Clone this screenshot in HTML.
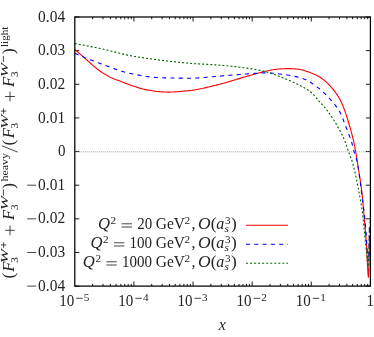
<!DOCTYPE html>
<html><head><meta charset="utf-8"><title>plot</title>
<style>
html,body{margin:0;padding:0;background:#fff;}
body{width:374px;height:337px;overflow:hidden;font-family:"Liberation Serif",serif;}
svg{display:block;will-change:transform;}
text{font-family:"Liberation Serif",serif;fill:#242424;}
.i{font-style:italic;}
.s{stroke:#242424;stroke-width:0.85;fill:none;}
</style></head><body>
<svg width="374" height="337" viewBox="0 0 374 337">


<path d="M92.60,286.1 v-2.25 M92.60,17.0 v2.25 M103.01,286.1 v-2.25 M103.01,17.0 v2.25 M110.39,286.1 v-2.25 M110.39,17.0 v2.25 M116.12,286.1 v-2.25 M116.12,17.0 v2.25 M120.80,286.1 v-2.25 M120.80,17.0 v2.25 M124.76,286.1 v-2.25 M124.76,17.0 v2.25 M128.19,286.1 v-2.25 M128.19,17.0 v2.25 M131.21,286.1 v-2.25 M131.21,17.0 v2.25 M133.92,286.1 v-4.5 M133.92,17.0 v4.5 M151.72,286.1 v-2.25 M151.72,17.0 v2.25 M162.13,286.1 v-2.25 M162.13,17.0 v2.25 M169.51,286.1 v-2.25 M169.51,17.0 v2.25 M175.24,286.1 v-2.25 M175.24,17.0 v2.25 M179.92,286.1 v-2.25 M179.92,17.0 v2.25 M183.88,286.1 v-2.25 M183.88,17.0 v2.25 M187.31,286.1 v-2.25 M187.31,17.0 v2.25 M190.33,286.1 v-2.25 M190.33,17.0 v2.25 M193.04,286.1 v-4.5 M193.04,17.0 v4.5 M210.84,286.1 v-2.25 M210.84,17.0 v2.25 M221.25,286.1 v-2.25 M221.25,17.0 v2.25 M228.63,286.1 v-2.25 M228.63,17.0 v2.25 M234.36,286.1 v-2.25 M234.36,17.0 v2.25 M239.04,286.1 v-2.25 M239.04,17.0 v2.25 M243.00,286.1 v-2.25 M243.00,17.0 v2.25 M246.43,286.1 v-2.25 M246.43,17.0 v2.25 M249.45,286.1 v-2.25 M249.45,17.0 v2.25 M252.16,286.1 v-4.5 M252.16,17.0 v4.5 M269.96,286.1 v-2.25 M269.96,17.0 v2.25 M280.37,286.1 v-2.25 M280.37,17.0 v2.25 M287.75,286.1 v-2.25 M287.75,17.0 v2.25 M293.48,286.1 v-2.25 M293.48,17.0 v2.25 M298.16,286.1 v-2.25 M298.16,17.0 v2.25 M302.12,286.1 v-2.25 M302.12,17.0 v2.25 M305.55,286.1 v-2.25 M305.55,17.0 v2.25 M308.57,286.1 v-2.25 M308.57,17.0 v2.25 M311.28,286.1 v-4.5 M311.28,17.0 v4.5 M329.08,286.1 v-2.25 M329.08,17.0 v2.25 M339.49,286.1 v-2.25 M339.49,17.0 v2.25 M346.87,286.1 v-2.25 M346.87,17.0 v2.25 M352.60,286.1 v-2.25 M352.60,17.0 v2.25 M357.28,286.1 v-2.25 M357.28,17.0 v2.25 M361.24,286.1 v-2.25 M361.24,17.0 v2.25 M364.67,286.1 v-2.25 M364.67,17.0 v2.25 M367.69,286.1 v-2.25 M367.69,17.0 v2.25 M74.8,17.00 h4.5 M370.4,17.00 h-4.5 M74.8,50.64 h4.5 M370.4,50.64 h-4.5 M74.8,84.28 h4.5 M370.4,84.28 h-4.5 M74.8,117.91 h4.5 M370.4,117.91 h-4.5 M74.8,151.55 h4.5 M370.4,151.55 h-4.5 M74.8,185.19 h4.5 M370.4,185.19 h-4.5 M74.8,218.83 h4.5 M370.4,218.83 h-4.5 M74.8,252.46 h4.5 M370.4,252.46 h-4.5 M74.8,286.10 h4.5 M370.4,286.10 h-4.5" stroke="#000" stroke-width="0.9" fill="none"/>
<line x1="74.8" y1="151.80" x2="370.4" y2="151.80" stroke="#909090" stroke-width="0.8" stroke-dasharray="1 1"/>
<path d="M74.80,49.50 L75.78,50.34 L76.75,51.19 L77.73,52.03 L78.70,52.88 L79.68,53.72 L80.65,54.57 L81.63,55.41 L82.60,56.26 L83.58,57.10 L84.55,57.95 L85.52,58.80 L86.48,59.66 L87.44,60.53 L88.39,61.40 L89.35,62.27 L90.31,63.13 L91.27,63.98 L92.25,64.83 L93.23,65.67 L94.21,66.51 L95.20,67.34 L96.20,68.16 L97.21,68.97 L98.23,69.75 L99.27,70.51 L100.32,71.25 L101.39,71.98 L102.47,72.69 L103.56,73.38 L104.66,74.06 L105.77,74.72 L106.88,75.37 L108.01,76.01 L109.14,76.63 L110.28,77.23 L111.44,77.80 L112.61,78.32 L113.80,78.81 L115.01,79.27 L116.22,79.71 L117.44,80.15 L118.66,80.59 L119.87,81.04 L121.07,81.51 L122.27,81.98 L123.47,82.45 L124.68,82.93 L125.88,83.39 L127.08,83.85 L128.29,84.30 L129.51,84.73 L130.73,85.15 L131.95,85.57 L133.17,85.99 L134.40,86.41 L135.63,86.82 L136.86,87.23 L138.09,87.62 L139.33,88.01 L140.57,88.37 L141.81,88.72 L143.06,89.05 L144.31,89.34 L145.56,89.61 L146.82,89.86 L148.08,90.09 L149.35,90.32 L150.62,90.54 L151.90,90.75 L153.18,90.94 L154.46,91.13 L155.75,91.29 L157.03,91.44 L158.32,91.57 L159.60,91.67 L160.89,91.76 L162.17,91.85 L163.46,91.93 L164.75,92.00 L166.04,92.05 L167.33,92.09 L168.62,92.10 L169.91,92.09 L171.20,92.06 L172.49,92.02 L173.78,91.96 L175.07,91.89 L176.36,91.81 L177.65,91.72 L178.94,91.62 L180.23,91.50 L181.52,91.39 L182.81,91.26 L184.09,91.13 L185.38,91.00 L186.66,90.86 L187.94,90.72 L189.22,90.58 L190.49,90.45 L191.77,90.29 L193.04,90.12 L194.31,89.93 L195.58,89.73 L196.85,89.51 L198.12,89.28 L199.38,89.03 L200.65,88.78 L201.91,88.51 L203.18,88.24 L204.44,87.95 L205.70,87.66 L206.96,87.36 L208.22,87.06 L209.48,86.75 L210.74,86.43 L211.99,86.12 L213.25,85.80 L214.50,85.48 L215.76,85.16 L217.01,84.85 L218.26,84.53 L219.52,84.22 L220.77,83.91 L222.01,83.59 L223.26,83.26 L224.50,82.93 L225.75,82.59 L226.99,82.24 L228.23,81.88 L229.47,81.52 L230.70,81.15 L231.94,80.78 L233.18,80.41 L234.41,80.04 L235.65,79.66 L236.88,79.28 L238.12,78.90 L239.35,78.53 L240.59,78.15 L241.82,77.77 L243.06,77.40 L244.30,77.03 L245.54,76.67 L246.78,76.31 L248.02,75.95 L249.26,75.60 L250.50,75.26 L251.75,74.91 L252.99,74.56 L254.23,74.21 L255.48,73.86 L256.72,73.51 L257.97,73.16 L259.21,72.82 L260.46,72.49 L261.71,72.17 L262.96,71.87 L264.22,71.58 L265.48,71.31 L266.74,71.05 L268.00,70.79 L269.27,70.53 L270.54,70.27 L271.81,70.02 L273.08,69.78 L274.36,69.56 L275.63,69.36 L276.91,69.18 L278.19,69.04 L279.47,68.93 L280.75,68.86 L282.04,68.79 L283.33,68.73 L284.62,68.68 L285.91,68.64 L287.21,68.61 L288.50,68.60 L289.79,68.61 L291.08,68.66 L292.37,68.72 L293.67,68.81 L294.96,68.91 L296.24,69.03 L297.52,69.15 L298.78,69.29 L300.05,69.50 L301.31,69.76 L302.57,70.07 L303.82,70.42 L305.07,70.80 L306.31,71.21 L307.54,71.63 L308.76,72.06 L309.97,72.49 L311.17,72.93 L312.38,73.40 L313.59,73.90 L314.78,74.43 L315.96,74.99 L317.12,75.57 L318.26,76.18 L319.36,76.81 L320.44,77.48 L321.49,78.18 L322.54,78.94 L323.56,79.73 L324.57,80.56 L325.56,81.42 L326.53,82.30 L327.48,83.21 L328.40,84.12 L329.29,85.05 L330.16,85.98 L331.01,86.92 L331.86,87.89 L332.69,88.88 L333.51,89.88 L334.31,90.91 L335.10,91.95 L335.87,93.01 L336.62,94.08 L337.34,95.16 L338.04,96.26 L338.72,97.36 L339.37,98.47 L339.99,99.58 L340.58,100.71 L341.15,101.86 L341.69,103.03 L342.21,104.21 L342.72,105.41 L343.20,106.61 L343.68,107.82 L344.14,109.03 L344.59,110.24 L345.03,111.45 L345.46,112.66 L345.88,113.88 L346.29,115.11 L346.69,116.33 L347.08,117.56 L347.47,118.80 L347.84,120.03 L348.22,121.27 L348.59,122.51 L348.95,123.75 L349.31,124.99 L349.67,126.23 L350.02,127.47 L350.37,128.71 L350.72,129.95 L351.06,131.20 L351.40,132.44 L351.73,133.69 L352.06,134.94 L352.38,136.19 L352.70,137.44 L353.01,138.69 L353.31,139.95 L353.60,141.20 L353.88,142.46 L354.15,143.72 L354.42,144.99 L354.67,146.25 L354.92,147.52 L355.16,148.79 L355.40,150.05 L355.63,151.32 L355.86,152.59 L356.08,153.86 L356.30,155.14 L356.51,156.41 L356.72,157.68 L356.92,158.96 L357.12,160.23 L357.32,161.51 L357.52,162.78 L357.72,164.06 L357.92,165.33 L358.12,166.61 L358.33,167.88 L358.53,169.16 L358.73,170.43 L358.93,171.71 L359.13,172.98 L359.33,174.26 L359.53,175.53 L359.72,176.81 L359.92,178.09 L360.11,179.36 L360.30,180.64 L360.49,181.92 L360.67,183.19 L360.85,184.47 L361.03,185.75 L361.21,187.03 L361.38,188.31 L361.54,189.59 L361.70,190.87 L361.86,192.15 L362.01,193.43 L362.16,194.71 L362.30,195.99 L362.43,197.27 L362.56,198.55 L362.68,199.84 L362.80,201.12 L362.92,202.41 L363.03,203.69 L363.14,204.98 L363.25,206.26 L363.35,207.55 L363.46,208.84 L363.57,210.12 L363.68,211.41 L363.79,212.70 L363.90,213.98 L364.01,215.27 L364.13,216.55 L364.25,217.84 L364.36,219.12 L364.48,220.41 L364.60,221.69 L364.72,222.98 L364.84,224.26 L364.95,225.55 L365.06,226.83 L365.18,228.12 L365.29,229.40 L365.39,230.69 L365.50,231.97 L365.60,233.26 L365.70,234.55 L365.80,235.83 L365.91,237.12 L366.01,238.41 L366.10,239.69 L366.20,240.98 L366.30,242.27 L366.39,243.55 L366.48,244.84 L366.56,246.13 L366.65,247.42 L366.72,248.70 L366.80,249.99 L366.87,251.28 L366.93,252.57 L366.99,253.86 L367.05,255.15 L367.10,256.44 L367.16,257.73 L367.21,259.01 L367.27,260.30 L367.32,261.59 L367.39,262.88 L367.45,264.17 L367.53,265.47 L367.61,266.96 L367.70,268.60 L367.80,270.30 L367.90,272.00 L368.01,273.59 L368.11,275.00 L368.21,276.14 L368.30,276.94 L368.38,277.29 L368.46,277.14 L368.54,276.51 L368.61,275.50 L368.68,274.18 L368.75,272.65 L368.82,270.98 L368.88,269.27 L368.93,267.59 L368.97,266.03 L369.01,264.67 L369.04,263.38 L369.06,262.09 L369.09,260.80 L369.11,259.51 L369.13,258.22 L369.15,256.93 L369.17,255.64 L369.18,254.35 L369.20,253.06 L369.22,251.77 L369.23,250.48 L369.25,249.19 L369.27,247.90 L369.29,246.61 L369.31,245.32 L369.33,244.03 L369.36,242.74 L369.38,241.45 L369.40,240.16 L369.43,238.87 L369.45,237.58 L369.48,236.29 L369.50,235.00" fill="none" stroke="#ff0000" stroke-width="1.1" stroke-linejoin="round"/>
<path d="M74.80,53.30 L75.89,53.77 L76.98,54.24 L78.07,54.71 L79.17,55.18 L80.26,55.64 L81.35,56.10 L82.45,56.56 L83.55,57.01 L84.65,57.46 L85.74,57.91 L86.84,58.36 L87.95,58.80 L89.05,59.24 L90.15,59.68 L91.25,60.11 L92.36,60.54 L93.46,60.97 L94.57,61.40 L95.68,61.82 L96.79,62.24 L97.90,62.66 L99.01,63.07 L100.12,63.48 L101.23,63.89 L102.35,64.29 L103.46,64.70 L104.58,65.11 L105.69,65.52 L106.81,65.94 L107.92,66.36 L109.04,66.78 L110.16,67.20 L111.28,67.62 L112.40,68.04 L113.52,68.45 L114.64,68.86 L115.76,69.27 L116.89,69.66 L118.01,70.05 L119.14,70.43 L120.27,70.80 L121.40,71.16 L122.53,71.50 L123.67,71.84 L124.81,72.16 L125.95,72.46 L127.09,72.75 L128.23,73.02 L129.38,73.27 L130.53,73.51 L131.68,73.74 L132.84,73.97 L134.00,74.20 L135.16,74.43 L136.32,74.66 L137.49,74.88 L138.66,75.10 L139.83,75.31 L141.01,75.53 L142.18,75.73 L143.36,75.93 L144.54,76.12 L145.71,76.30 L146.89,76.48 L148.08,76.65 L149.26,76.81 L150.44,76.95 L151.62,77.09 L152.81,77.22 L153.99,77.33 L155.17,77.43 L156.36,77.52 L157.54,77.59 L158.72,77.65 L159.90,77.70 L161.08,77.73 L162.26,77.77 L163.45,77.80 L164.63,77.83 L165.81,77.86 L167.00,77.89 L168.18,77.92 L169.37,77.95 L170.56,77.97 L171.74,78.00 L172.93,78.02 L174.12,78.05 L175.31,78.07 L176.49,78.09 L177.68,78.11 L178.87,78.12 L180.06,78.14 L181.25,78.15 L182.44,78.16 L183.62,78.17 L184.81,78.18 L186.00,78.19 L187.18,78.19 L188.37,78.20 L189.56,78.20 L190.74,78.20 L191.93,78.18 L193.11,78.16 L194.29,78.12 L195.48,78.08 L196.66,78.02 L197.85,77.96 L199.03,77.89 L200.21,77.81 L201.40,77.72 L202.58,77.63 L203.76,77.54 L204.95,77.43 L206.13,77.33 L207.31,77.22 L208.50,77.12 L209.68,77.01 L210.86,76.90 L212.05,76.79 L213.23,76.68 L214.41,76.57 L215.60,76.46 L216.78,76.36 L217.96,76.26 L219.14,76.17 L220.33,76.08 L221.51,75.99 L222.69,75.89 L223.88,75.80 L225.06,75.70 L226.24,75.60 L227.42,75.50 L228.61,75.40 L229.79,75.30 L230.97,75.20 L232.15,75.09 L233.33,74.99 L234.52,74.89 L235.70,74.79 L236.88,74.68 L238.06,74.58 L239.25,74.49 L240.43,74.39 L241.61,74.29 L242.79,74.20 L243.98,74.11 L245.16,74.02 L246.34,73.94 L247.53,73.86 L248.71,73.78 L249.89,73.71 L251.08,73.63 L252.26,73.56 L253.45,73.48 L254.63,73.40 L255.82,73.32 L257.00,73.24 L258.19,73.17 L259.37,73.10 L260.56,73.04 L261.74,72.99 L262.93,72.95 L264.11,72.92 L265.30,72.90 L266.48,72.90 L267.66,72.92 L268.85,72.97 L270.03,73.03 L271.22,73.12 L272.40,73.21 L273.59,73.32 L274.77,73.44 L275.95,73.56 L277.13,73.69 L278.31,73.82 L279.49,73.95 L280.67,74.07 L281.85,74.21 L283.03,74.35 L284.21,74.51 L285.38,74.67 L286.56,74.85 L287.74,75.03 L288.91,75.23 L290.08,75.43 L291.25,75.65 L292.41,75.87 L293.57,76.10 L294.73,76.34 L295.88,76.60 L297.04,76.87 L298.19,77.17 L299.34,77.49 L300.49,77.82 L301.63,78.18 L302.76,78.56 L303.88,78.96 L304.98,79.39 L306.07,79.83 L307.13,80.33 L308.18,80.90 L309.20,81.51 L310.21,82.13 L311.21,82.77 L312.20,83.42 L313.19,84.09 L314.16,84.77 L315.13,85.47 L316.08,86.18 L317.03,86.90 L317.96,87.64 L318.89,88.38 L319.80,89.13 L320.70,89.89 L321.60,90.67 L322.48,91.45 L323.37,92.25 L324.24,93.06 L325.10,93.89 L325.95,94.72 L326.80,95.57 L327.62,96.42 L328.44,97.28 L329.24,98.15 L330.03,99.03 L330.81,99.92 L331.59,100.81 L332.37,101.72 L333.15,102.63 L333.91,103.55 L334.67,104.49 L335.42,105.43 L336.15,106.38 L336.86,107.34 L337.54,108.32 L338.20,109.30 L338.84,110.29 L339.44,111.29 L340.00,112.31 L340.54,113.34 L341.05,114.39 L341.53,115.46 L342.00,116.55 L342.45,117.65 L342.88,118.76 L343.31,119.88 L343.73,121.00 L344.14,122.13 L344.56,123.25 L344.98,124.37 L345.40,125.48 L345.83,126.59 L346.27,127.69 L346.71,128.80 L347.15,129.90 L347.58,131.01 L348.02,132.11 L348.46,133.22 L348.89,134.33 L349.31,135.44 L349.72,136.55 L350.13,137.66 L350.52,138.78 L350.90,139.90 L351.27,141.03 L351.62,142.16 L351.95,143.29 L352.25,144.44 L352.55,145.59 L352.83,146.74 L353.11,147.90 L353.40,149.05 L353.69,150.20 L354.00,151.35 L354.33,152.48 L354.70,153.62 L355.09,154.74 L355.48,155.87 L355.86,157.00 L356.21,158.13 L356.53,159.26 L356.79,160.41 L357.03,161.56 L357.26,162.72 L357.49,163.87 L357.71,165.03 L357.92,166.19 L358.12,167.36 L358.32,168.53 L358.51,169.69 L358.69,170.87 L358.87,172.04 L359.05,173.21 L359.22,174.39 L359.38,175.57 L359.54,176.74 L359.70,177.92 L359.86,179.10 L360.01,180.28 L360.16,181.46 L360.31,182.65 L360.46,183.83 L360.60,185.01 L360.75,186.19 L360.89,187.38 L361.04,188.56 L361.19,189.74 L361.34,190.92 L361.49,192.10 L361.64,193.28 L361.79,194.46 L361.95,195.63 L362.11,196.81 L362.27,197.98 L362.43,199.16 L362.59,200.33 L362.75,201.51 L362.91,202.69 L363.06,203.86 L363.22,205.04 L363.37,206.22 L363.52,207.39 L363.67,208.57 L363.81,209.75 L363.95,210.93 L364.09,212.10 L364.22,213.28 L364.35,214.46 L364.48,215.64 L364.60,216.82 L364.72,218.00 L364.84,219.18 L364.96,220.36 L365.08,221.54 L365.19,222.72 L365.30,223.91 L365.41,225.09 L365.52,226.27 L365.62,227.45 L365.73,228.63 L365.82,229.81 L365.92,231.00 L366.01,232.18 L366.10,233.36 L366.19,234.55 L366.27,235.73 L366.34,236.91 L366.41,238.10 L366.49,239.28 L366.56,240.47 L366.63,241.65 L366.70,242.84 L366.77,244.02 L366.85,245.20 L366.93,246.39 L367.01,247.57 L367.10,248.75 L367.19,249.94 L367.30,251.22 L367.43,252.69 L367.56,254.25 L367.70,255.81 L367.84,257.28 L367.98,258.57 L368.11,259.60 L368.22,260.27 L368.30,260.50 L368.38,260.35 L368.45,259.96 L368.52,259.34 L368.59,258.52 L368.66,257.52 L368.72,256.36 L368.78,255.08 L368.84,253.69 L368.89,252.22 L368.94,250.68 L368.99,249.12 L369.03,247.54 L369.07,245.97 L369.11,244.44 L369.14,242.97 L369.17,241.58 L369.19,240.30 L369.22,239.11 L369.24,237.92 L369.26,236.74 L369.28,235.55 L369.30,234.36 L369.31,233.18 L369.33,231.99 L369.34,230.81 L369.36,229.62 L369.37,228.43 L369.38,227.25 L369.39,226.06 L369.39,224.87 L369.40,223.69 L369.40,222.50" fill="none" stroke="#0000ff" stroke-width="1.1" stroke-dasharray="4 4.3" stroke-linejoin="round"/>
<path d="M74.80,43.60 L75.96,43.80 L77.12,44.00 L78.28,44.21 L79.44,44.42 L80.60,44.63 L81.75,44.84 L82.91,45.05 L84.07,45.27 L85.23,45.48 L86.38,45.70 L87.54,45.93 L88.69,46.15 L89.85,46.38 L91.00,46.61 L92.16,46.84 L93.31,47.07 L94.46,47.30 L95.61,47.54 L96.77,47.77 L97.92,48.01 L99.07,48.26 L100.22,48.50 L101.37,48.74 L102.52,48.99 L103.67,49.25 L104.81,49.51 L105.96,49.78 L107.10,50.06 L108.25,50.34 L109.39,50.63 L110.53,50.92 L111.67,51.21 L112.81,51.51 L113.95,51.81 L115.09,52.10 L116.23,52.40 L117.37,52.70 L118.51,52.99 L119.66,53.28 L120.80,53.57 L121.94,53.85 L123.08,54.12 L124.23,54.39 L125.38,54.65 L126.52,54.90 L127.67,55.14 L128.82,55.38 L129.98,55.60 L131.13,55.81 L132.29,56.02 L133.44,56.22 L134.60,56.42 L135.76,56.62 L136.92,56.81 L138.08,57.00 L139.24,57.19 L140.40,57.38 L141.57,57.56 L142.73,57.74 L143.90,57.91 L145.06,58.09 L146.23,58.26 L147.39,58.42 L148.56,58.59 L149.73,58.75 L150.89,58.91 L152.06,59.07 L153.23,59.23 L154.39,59.38 L155.56,59.54 L156.73,59.69 L157.90,59.84 L159.06,59.98 L160.23,60.13 L161.40,60.27 L162.56,60.42 L163.73,60.56 L164.90,60.70 L166.07,60.84 L167.24,60.98 L168.41,61.12 L169.57,61.26 L170.74,61.39 L171.91,61.53 L173.08,61.66 L174.25,61.79 L175.42,61.92 L176.59,62.04 L177.76,62.16 L178.94,62.29 L180.11,62.40 L181.28,62.52 L182.45,62.64 L183.62,62.75 L184.79,62.85 L185.96,62.96 L187.14,63.06 L188.31,63.16 L189.48,63.26 L190.65,63.35 L191.82,63.44 L193.00,63.52 L194.17,63.61 L195.34,63.68 L196.52,63.76 L197.69,63.83 L198.87,63.90 L200.04,63.97 L201.22,64.03 L202.39,64.10 L203.57,64.16 L204.75,64.23 L205.92,64.29 L207.10,64.36 L208.27,64.42 L209.45,64.49 L210.62,64.56 L211.80,64.63 L212.97,64.70 L214.14,64.78 L215.32,64.85 L216.49,64.93 L217.67,65.02 L218.84,65.11 L220.01,65.20 L221.18,65.30 L222.35,65.40 L223.53,65.50 L224.70,65.60 L225.87,65.71 L227.04,65.82 L228.21,65.93 L229.39,66.05 L230.56,66.17 L231.73,66.29 L232.90,66.42 L234.07,66.54 L235.24,66.67 L236.41,66.81 L237.58,66.94 L238.75,67.08 L239.92,67.23 L241.09,67.37 L242.26,67.52 L243.42,67.68 L244.59,67.83 L245.75,67.99 L246.92,68.15 L248.08,68.32 L249.24,68.49 L250.40,68.66 L251.57,68.84 L252.73,69.03 L253.89,69.22 L255.05,69.43 L256.21,69.64 L257.37,69.86 L258.53,70.09 L259.69,70.33 L260.84,70.58 L261.99,70.83 L263.13,71.10 L264.28,71.37 L265.41,71.65 L266.54,71.94 L267.67,72.26 L268.79,72.60 L269.91,72.95 L271.03,73.33 L272.14,73.72 L273.25,74.12 L274.36,74.53 L275.46,74.95 L276.56,75.37 L277.66,75.80 L278.76,76.23 L279.86,76.65 L280.96,77.07 L282.06,77.49 L283.16,77.92 L284.25,78.35 L285.35,78.79 L286.44,79.23 L287.53,79.68 L288.62,80.13 L289.71,80.59 L290.79,81.06 L291.86,81.54 L292.93,82.02 L293.99,82.52 L295.05,83.02 L296.11,83.54 L297.17,84.05 L298.24,84.58 L299.31,85.10 L300.38,85.64 L301.44,86.19 L302.49,86.75 L303.54,87.32 L304.57,87.91 L305.59,88.51 L306.59,89.12 L307.57,89.76 L308.52,90.41 L309.45,91.08 L310.35,91.78 L311.23,92.52 L312.08,93.30 L312.91,94.11 L313.72,94.96 L314.52,95.83 L315.31,96.73 L316.09,97.63 L316.86,98.54 L317.63,99.46 L318.40,100.37 L319.18,101.27 L319.96,102.15 L320.75,103.03 L321.54,103.90 L322.33,104.78 L323.12,105.65 L323.91,106.53 L324.68,107.42 L325.45,108.32 L326.20,109.22 L326.93,110.13 L327.65,111.06 L328.34,112.00 L329.03,112.95 L329.71,113.91 L330.39,114.87 L331.05,115.85 L331.71,116.83 L332.35,117.81 L332.99,118.81 L333.62,119.81 L334.25,120.81 L334.86,121.82 L335.47,122.83 L336.06,123.85 L336.65,124.86 L337.23,125.88 L337.81,126.90 L338.38,127.93 L338.95,128.96 L339.52,129.99 L340.08,131.03 L340.63,132.08 L341.17,133.13 L341.71,134.18 L342.24,135.24 L342.75,136.30 L343.26,137.36 L343.75,138.43 L344.22,139.51 L344.69,140.59 L345.13,141.67 L345.55,142.76 L345.95,143.86 L346.33,144.97 L346.70,146.09 L347.05,147.22 L347.40,148.34 L347.76,149.47 L348.12,150.59 L348.50,151.71 L348.90,152.81 L349.32,153.91 L349.75,155.01 L350.19,156.11 L350.62,157.21 L351.05,158.31 L351.45,159.41 L351.84,160.52 L352.19,161.63 L352.52,162.76 L352.83,163.88 L353.14,165.01 L353.44,166.14 L353.74,167.28 L354.03,168.42 L354.31,169.56 L354.59,170.70 L354.86,171.84 L355.12,172.99 L355.39,174.14 L355.64,175.29 L355.90,176.44 L356.14,177.59 L356.39,178.75 L356.63,179.90 L356.87,181.06 L357.10,182.21 L357.33,183.37 L357.56,184.53 L357.78,185.69 L358.00,186.85 L358.22,188.01 L358.44,189.17 L358.66,190.33 L358.87,191.49 L359.09,192.64 L359.30,193.80 L359.51,194.96 L359.72,196.12 L359.93,197.27 L360.14,198.43 L360.35,199.59 L360.55,200.75 L360.76,201.91 L360.96,203.07 L361.15,204.23 L361.35,205.39 L361.54,206.55 L361.72,207.72 L361.90,208.88 L362.07,210.05 L362.23,211.21 L362.39,212.37 L362.54,213.54 L362.69,214.71 L362.82,215.87 L362.95,217.04 L363.08,218.21 L363.20,219.38 L363.31,220.55 L363.43,221.73 L363.54,222.90 L363.65,224.07 L363.75,225.24 L363.86,226.41 L363.97,227.59 L364.08,228.76 L364.19,229.93 L364.31,231.10 L364.43,232.27 L364.55,233.44 L364.67,234.61 L364.79,235.78 L364.91,236.95 L365.04,238.12 L365.16,239.29 L365.28,240.46 L365.41,241.63 L365.53,242.80 L365.66,243.97 L365.78,245.14 L365.91,246.31 L366.03,247.48 L366.16,248.65 L366.28,249.82 L366.41,251.05 L366.54,252.41 L366.68,253.87 L366.82,255.40 L366.97,256.95 L367.11,258.50 L367.26,260.01 L367.39,261.45 L367.53,262.77 L367.66,263.95 L367.78,264.94 L367.89,265.72 L367.99,266.25 L368.08,266.49 L368.16,266.43 L368.23,266.13 L368.30,265.61 L368.37,264.88 L368.44,263.98 L368.51,262.93 L368.57,261.74 L368.63,260.43 L368.69,259.03 L368.74,257.55 L368.80,256.03 L368.84,254.47 L368.89,252.90 L368.94,251.35 L368.98,249.83 L369.02,248.36 L369.05,246.96 L369.08,245.67 L369.11,244.47 L369.14,243.29 L369.17,242.12 L369.20,240.94 L369.23,239.77 L369.25,238.59 L369.28,237.41 L369.30,236.24 L369.32,235.06 L369.34,233.88 L369.36,232.71 L369.37,231.53 L369.38,230.35 L369.39,229.18 L369.40,228.00" fill="none" stroke="#006400" stroke-width="1.1" stroke-dasharray="2 2.04" stroke-linejoin="round"/>
<line x1="246" y1="225.2" x2="288.1" y2="225.2" stroke="#ff0000" stroke-width="1.1"/>
<line x1="246" y1="244.2" x2="288.1" y2="244.2" stroke="#0000ff" stroke-width="1.1" stroke-dasharray="4 4.3"/>
<line x1="246" y1="263.3" x2="288.1" y2="263.3" stroke="#006400" stroke-width="1.1" stroke-dasharray="2 2.04"/>
<rect x="74.8" y="17.0" width="295.60" height="269.10" fill="none" stroke="#000" stroke-width="1.25"/>
<text x="38.10" y="21.60" font-size="16" textLength="27.0" lengthAdjust="spacingAndGlyphs">0.04</text>
<text x="38.10" y="55.24" font-size="16" textLength="27.0" lengthAdjust="spacingAndGlyphs">0.03</text>
<text x="38.10" y="88.88" font-size="16" textLength="27.0" lengthAdjust="spacingAndGlyphs">0.02</text>
<text x="38.10" y="122.51" font-size="16" textLength="27.0" lengthAdjust="spacingAndGlyphs">0.01</text>
<text x="58.00" y="156.15" font-size="16" textLength="7.5" lengthAdjust="spacingAndGlyphs">0</text>
<text x="38.10" y="189.79" font-size="16" textLength="27.0" lengthAdjust="spacingAndGlyphs">0.01</text>
<path class="s" d="M27.2,185.19 H36.2"/>
<text x="38.10" y="223.43" font-size="16" textLength="27.0" lengthAdjust="spacingAndGlyphs">0.02</text>
<path class="s" d="M27.2,218.83 H36.2"/>
<text x="38.10" y="257.06" font-size="16" textLength="27.0" lengthAdjust="spacingAndGlyphs">0.03</text>
<path class="s" d="M27.2,252.46 H36.2"/>
<text x="38.10" y="290.70" font-size="16" textLength="27.0" lengthAdjust="spacingAndGlyphs">0.04</text>
<path class="s" d="M27.2,286.10 H36.2"/>
<text x="59.20" y="306.40" font-size="16" textLength="15" lengthAdjust="spacingAndGlyphs">10</text>
<path class="s" d="M76.20,298.30 h6.6"/>
<text x="83.80" y="301.00" font-size="11.2">5</text>
<text x="118.32" y="306.40" font-size="16" textLength="15" lengthAdjust="spacingAndGlyphs">10</text>
<path class="s" d="M135.32,298.30 h6.6"/>
<text x="142.92" y="301.00" font-size="11.2">4</text>
<text x="177.44" y="306.40" font-size="16" textLength="15" lengthAdjust="spacingAndGlyphs">10</text>
<path class="s" d="M194.44,298.30 h6.6"/>
<text x="202.04" y="301.00" font-size="11.2">3</text>
<text x="236.56" y="306.40" font-size="16" textLength="15" lengthAdjust="spacingAndGlyphs">10</text>
<path class="s" d="M253.56,298.30 h6.6"/>
<text x="261.16" y="301.00" font-size="11.2">2</text>
<text x="295.68" y="306.40" font-size="16" textLength="15" lengthAdjust="spacingAndGlyphs">10</text>
<path class="s" d="M312.68,298.30 h6.6"/>
<text x="320.28" y="301.00" font-size="11.2">1</text>
<text x="366.50" y="306.40" font-size="16" textLength="7.5" lengthAdjust="spacingAndGlyphs">1</text>
<text x="222.30" y="329.80" font-size="16" class="i" text-anchor="middle">x</text>
<text x="98.00" y="229.40" font-size="16" class="i" textLength="12.0" lengthAdjust="spacingAndGlyphs">Q</text><text x="110.60" y="223.80" font-size="11.2">2</text><path class="s" d="M121.60,223.80 h10.4 M121.60,227.00 h10.4"/><text x="137.20" y="229.40" font-size="16" textLength="15.0" lengthAdjust="spacingAndGlyphs">20</text><text x="155.80" y="229.40" font-size="16" textLength="29.2" lengthAdjust="spacingAndGlyphs">GeV</text><text x="184.60" y="223.80" font-size="11.2">2</text><text x="191.60" y="229.40" font-size="16">,</text><text x="198.00" y="229.40" font-size="16" class="i" textLength="12.6" lengthAdjust="spacingAndGlyphs">O</text><text x="210.80" y="228.60" font-size="17.2">(</text><text x="216.20" y="229.40" font-size="16" class="i">a</text><text x="225.00" y="224.00" font-size="11.2">3</text><text x="224.60" y="232.00" font-size="11.2" class="i">s</text><text x="230.90" y="228.60" font-size="17.2">)</text>
<text x="90.40" y="248.40" font-size="16" class="i" textLength="12.0" lengthAdjust="spacingAndGlyphs">Q</text><text x="103.00" y="242.80" font-size="11.2">2</text><path class="s" d="M114.00,242.80 h10.4 M114.00,246.00 h10.4"/><text x="129.60" y="248.40" font-size="16" textLength="22.5" lengthAdjust="spacingAndGlyphs">100</text><text x="155.80" y="248.40" font-size="16" textLength="29.2" lengthAdjust="spacingAndGlyphs">GeV</text><text x="184.60" y="242.80" font-size="11.2">2</text><text x="191.60" y="248.40" font-size="16">,</text><text x="198.00" y="248.40" font-size="16" class="i" textLength="12.6" lengthAdjust="spacingAndGlyphs">O</text><text x="210.80" y="247.60" font-size="17.2">(</text><text x="216.20" y="248.40" font-size="16" class="i">a</text><text x="225.00" y="243.00" font-size="11.2">3</text><text x="224.60" y="251.00" font-size="11.2" class="i">s</text><text x="230.90" y="247.60" font-size="17.2">)</text>
<text x="82.80" y="267.40" font-size="16" class="i" textLength="12.0" lengthAdjust="spacingAndGlyphs">Q</text><text x="95.40" y="261.80" font-size="11.2">2</text><path class="s" d="M106.40,261.80 h10.4 M106.40,265.00 h10.4"/><text x="122.00" y="267.40" font-size="16" textLength="30.0" lengthAdjust="spacingAndGlyphs">1000</text><text x="155.80" y="267.40" font-size="16" textLength="29.2" lengthAdjust="spacingAndGlyphs">GeV</text><text x="184.60" y="261.80" font-size="11.2">2</text><text x="191.60" y="267.40" font-size="16">,</text><text x="198.00" y="267.40" font-size="16" class="i" textLength="12.6" lengthAdjust="spacingAndGlyphs">O</text><text x="210.80" y="266.60" font-size="17.2">(</text><text x="216.20" y="267.40" font-size="16" class="i">a</text><text x="225.00" y="262.00" font-size="11.2">3</text><text x="224.60" y="270.00" font-size="11.2" class="i">s</text><text x="230.90" y="266.60" font-size="17.2">)</text>
<g transform="translate(14,280.5) rotate(-90)"><text x="2.00" y="-0.30" font-size="17.2">(</text><text x="8.80" y="0.00" font-size="16" class="i" textLength="10.2" lengthAdjust="spacingAndGlyphs">F</text><text x="17.80" y="4.20" font-size="11.2">3</text><text x="17.20" y="-6.00" font-size="11.2" class="i" textLength="14.2" lengthAdjust="spacingAndGlyphs">W</text><path class="s" d="M32.82,-10.40 h5.4 M35.52,-13.10 v5.4"/><path class="s" d="M45.30,-4.00 h9.8 M50.20,-8.90 v9.8"/><text x="60.60" y="0.00" font-size="16" class="i" textLength="10.2" lengthAdjust="spacingAndGlyphs">F</text><text x="70.40" y="4.20" font-size="11.2">3</text><text x="70.20" y="-6.00" font-size="11.2" class="i" textLength="14.2" lengthAdjust="spacingAndGlyphs">W</text><path class="s" d="M85.00,-10.60 h6.0"/><text x="91.80" y="-0.30" font-size="17.2">)</text><text x="99.10" y="-5.70" font-size="11.2" textLength="28.4" lengthAdjust="spacingAndGlyphs">heavy</text><path class="s" d="M128.4,3.7 L134.6,-12"/><text x="135.10" y="-0.30" font-size="17.2">(</text><text x="142.20" y="0.00" font-size="16" class="i" textLength="10.2" lengthAdjust="spacingAndGlyphs">F</text><text x="152.00" y="4.20" font-size="11.2">3</text><text x="151.80" y="-6.00" font-size="11.2" class="i" textLength="14.2" lengthAdjust="spacingAndGlyphs">W</text><path class="s" d="M166.70,-10.40 h5.4 M169.40,-13.10 v5.4"/><path class="s" d="M179.10,-4.00 h9.8 M184.00,-8.90 v9.8"/><text x="193.60" y="0.00" font-size="16" class="i" textLength="10.2" lengthAdjust="spacingAndGlyphs">F</text><text x="203.40" y="4.20" font-size="11.2">3</text><text x="203.20" y="-6.00" font-size="11.2" class="i" textLength="14.2" lengthAdjust="spacingAndGlyphs">W</text><path class="s" d="M218.64,-10.60 h6.0"/><text x="226.40" y="-0.30" font-size="17.2">)</text><text x="233.50" y="-5.70" font-size="11.2" textLength="20.4" lengthAdjust="spacingAndGlyphs">light</text></g>
</svg></body></html>
